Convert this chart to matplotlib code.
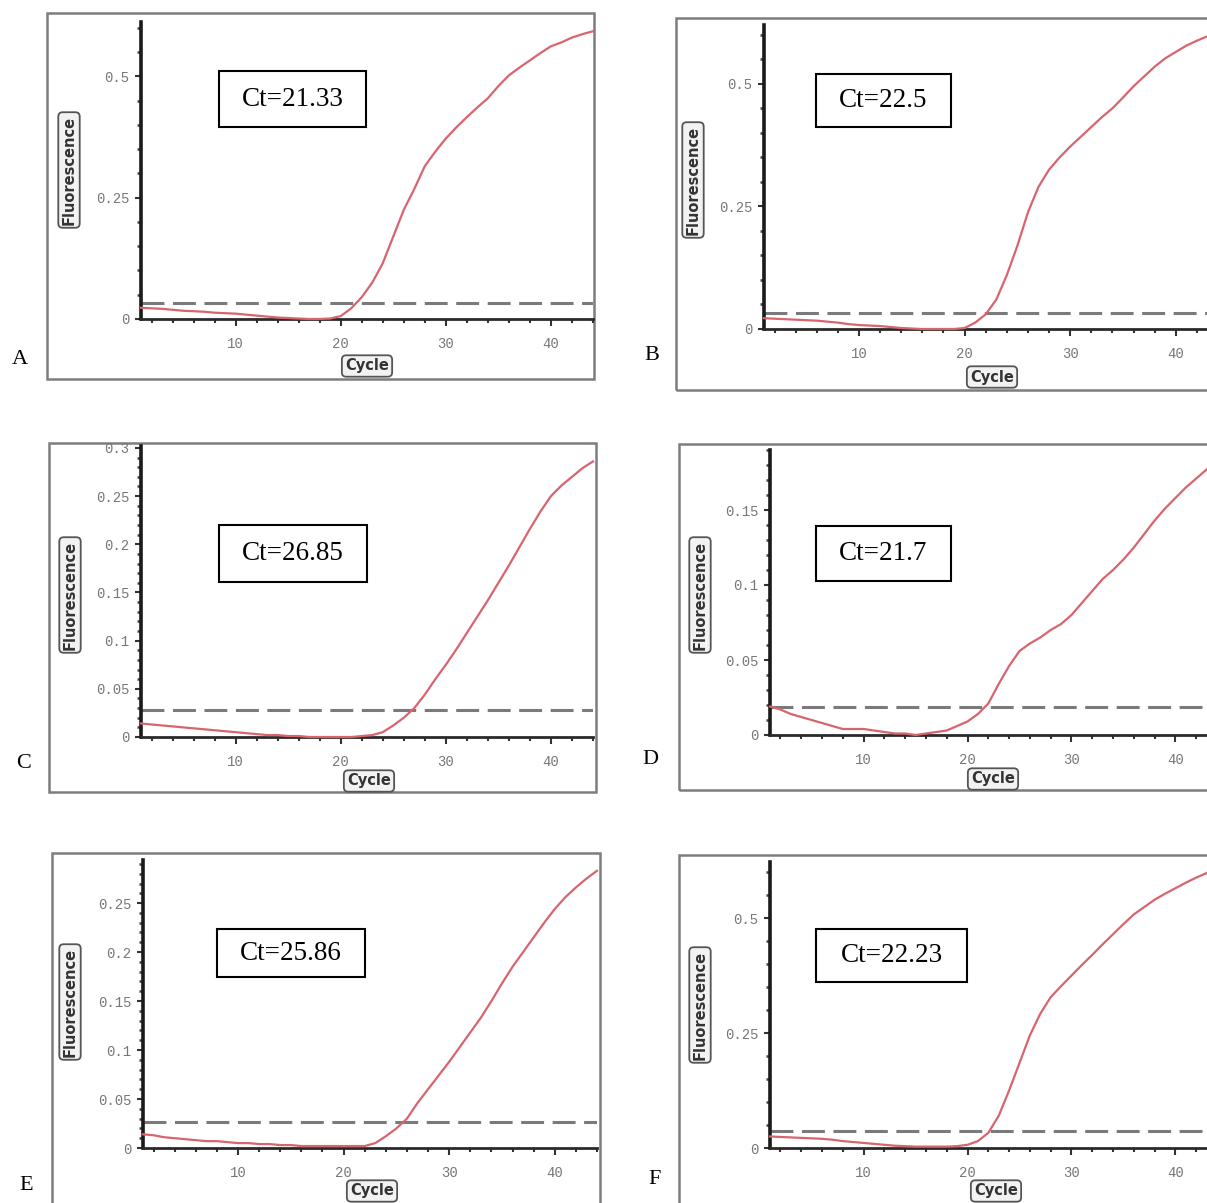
import matplotlib
matplotlib.use("Agg")
import matplotlib.pyplot as plt
from matplotlib.patches import Rectangle
from matplotlib.ticker import MultipleLocator

# ---------------- data ----------------
cycles = list(range(1, 45))

panel_letters = ["A", "B", "C", "D", "E", "F"]
ct_labels = ["Ct=21.33", "Ct=22.5", "Ct=26.85", "Ct=21.7", "Ct=25.86", "Ct=22.23"]
thresholds = [0.032, 0.032, 0.028, 0.019, 0.0265, 0.036]

fluor_A = [0.023, 0.022, 0.021, 0.019, 0.017, 0.016, 0.015, 0.013, 0.012, 0.011,
           0.009, 0.007, 0.005, 0.003, 0.002, 0.001, 0.000, 0.000, 0.001, 0.006,
           0.022, 0.045, 0.075, 0.115, 0.170, 0.225, 0.268, 0.315, 0.345, 0.372,
           0.395, 0.416, 0.436, 0.455, 0.480, 0.502, 0.518, 0.533, 0.548, 0.562,
           0.570, 0.580, 0.587, 0.593]
fluor_B = [0.022, 0.021, 0.020, 0.019, 0.018, 0.017, 0.015, 0.013, 0.010, 0.008,
           0.007, 0.006, 0.004, 0.002, 0.001, 0.000, 0.000, 0.000, 0.000, 0.002,
           0.013, 0.030, 0.060, 0.110, 0.170, 0.238, 0.290, 0.325, 0.350, 0.372,
           0.392, 0.412, 0.432, 0.450, 0.472, 0.495, 0.515, 0.535, 0.552, 0.565,
           0.578, 0.588, 0.597, 0.605]
fluor_C = [0.014, 0.013, 0.012, 0.011, 0.010, 0.009, 0.008, 0.007, 0.006, 0.005,
           0.004, 0.003, 0.002, 0.002, 0.001, 0.001, 0.000, 0.000, 0.000, 0.000,
           0.000, 0.001, 0.002, 0.005, 0.012, 0.020, 0.030, 0.044, 0.060, 0.075,
           0.091, 0.108, 0.125, 0.142, 0.160, 0.178, 0.197, 0.216, 0.234, 0.250,
           0.261, 0.270, 0.279, 0.286]
fluor_D = [0.019, 0.017, 0.014, 0.012, 0.010, 0.008, 0.006, 0.004, 0.004, 0.004,
           0.003, 0.002, 0.001, 0.001, 0.000, 0.001, 0.002, 0.003, 0.006, 0.009,
           0.014, 0.021, 0.034, 0.046, 0.056, 0.061, 0.065, 0.070, 0.074, 0.080,
           0.088, 0.096, 0.104, 0.110, 0.117, 0.125, 0.134, 0.143, 0.151, 0.158,
           0.165, 0.171, 0.177, 0.183]
fluor_E = [0.014, 0.013, 0.011, 0.010, 0.009, 0.008, 0.007, 0.007, 0.006, 0.005,
           0.005, 0.004, 0.004, 0.003, 0.003, 0.002, 0.002, 0.002, 0.002, 0.002,
           0.002, 0.002, 0.005, 0.012, 0.020, 0.030, 0.046, 0.060, 0.074, 0.088,
           0.103, 0.118, 0.133, 0.150, 0.168, 0.185, 0.200, 0.215, 0.230, 0.244,
           0.256, 0.266, 0.275, 0.283]
fluor_F = [0.025, 0.024, 0.023, 0.022, 0.021, 0.020, 0.018, 0.015, 0.013, 0.011,
           0.009, 0.007, 0.005, 0.004, 0.003, 0.003, 0.003, 0.003, 0.004, 0.007,
           0.015, 0.033, 0.070, 0.125, 0.185, 0.245, 0.292, 0.328, 0.352, 0.375,
           0.398, 0.420, 0.443, 0.465, 0.487, 0.508, 0.524, 0.540, 0.553, 0.565,
           0.577, 0.588, 0.598, 0.607]
series = [fluor_A, fluor_B, fluor_C, fluor_D, fluor_E, fluor_F]

x_major = [10, 20, 30, 40]
x_labels = ["10", "20", "30", "40"]
y_major_A = [0, 0.25, 0.5]
y_labels_A = ["0", "0.25", "0.5"]
y_major_C = [0, 0.05, 0.1, 0.15, 0.2, 0.25, 0.3]
y_labels_C = ["0", "0.05", "0.1", "0.15", "0.2", "0.25", "0.3"]
y_major_D = [0, 0.05, 0.1, 0.15]
y_labels_D = ["0", "0.05", "0.1", "0.15"]
y_major_E = [0, 0.05, 0.1, 0.15, 0.2, 0.25]
y_labels_E = ["0", "0.05", "0.1", "0.15", "0.2", "0.25"]
y_major = [y_major_A, y_major_A, y_major_C, y_major_D, y_major_E, y_major_A]
y_labels = [y_labels_A, y_labels_A, y_labels_C, y_labels_D, y_labels_E, y_labels_A]
y_minor_step = [0.05, 0.05, 0.01, 0.01, 0.01, 0.05]
y_top = [0.612, 0.62, 0.302, 0.19, 0.294, 0.622]

# ---------------- layout (pixels) ----------------
W, H = 1207, 1203
# axes: left px, right px, top px, bottom px
axes_px = [(141, 593, 22, 319), (764, 1218, 25, 329),
           (141, 593, 446, 737), (770, 1217, 450, 735),
           (143, 597, 860, 1148), (770, 1217, 862, 1148)]
# frame: left, top, right, bottom
frames_px = [(47, 13, 594, 379), (676, 18, 1225, 390),
             (49, 443, 596, 792), (679, 444, 1225, 790),
             (52, 853, 600, 1225), (679, 855, 1225, 1225)]
ct_boxes = [(219, 71, 366, 127), (816, 74, 951, 127),
            (219, 525, 367, 582), (816, 526, 951, 581),
            (217, 929, 365, 977), (816, 929, 967, 982)]
letter_pos = [(20, 360), (652, 356), (24, 763), (650, 760), (26, 1186), (655, 1180)]
fluor_pos = [(69, 170), (693, 180), (70, 595), (700, 595), (70, 1002), (700, 1005)]
cycle_pos = [(367, 366), (992, 377), (369, 781), (993, 779), (372, 1191), (996, 1191)]

fig = plt.figure(figsize=(W / 100, H / 100), dpi=100)
fig.patch.set_facecolor("white")

def fx(x):
    return x / W

def fy(y):
    return 1 - y / H

tick_font = dict(family="Liberation Mono", size=10)

for i in range(6):
    # frame
    l, t, r, b = frames_px[i]
    fig.add_artist(Rectangle((fx(l), fy(b)), fx(r) - fx(l), fy(t) - fy(b),
                             transform=fig.transFigure, fill=False,
                             edgecolor="#7d7d7d", linewidth=1.8, zorder=0))
    L, R, T, B = axes_px[i]
    ax = fig.add_axes([fx(L), fy(B), fx(R) - fx(L), fy(T) - fy(B)])
    ax.patch.set_alpha(0)
    ax.set_xlim(1, 44)
    ax.set_ylim(0, y_top[i])
    for s in ["top", "right"]:
        ax.spines[s].set_visible(False)
    ax.spines["left"].set_linewidth(2.6)
    ax.spines["left"].set_color("#1a1a1a")
    ax.spines["bottom"].set_linewidth(2.0)
    ax.spines["bottom"].set_color("#2a2a2a")

    ax.set_xticks(x_major)
    ax.set_xticklabels(x_labels, fontdict=tick_font, color="#777777")
    ax.xaxis.set_minor_locator(MultipleLocator(2))
    ax.set_yticks(y_major[i])
    ax.set_yticklabels(y_labels[i], fontdict=tick_font, color="#777777")
    ax.yaxis.set_minor_locator(MultipleLocator(y_minor_step[i]))
    ax.tick_params(axis="x", which="major", direction="out", length=5, width=1.5,
                   color="#333333", pad=8)
    ax.tick_params(axis="x", which="minor", direction="out", length=3, width=1.5,
                   color="#333333")
    ax.tick_params(axis="y", which="major", direction="out", length=4.5, width=1.5,
                   color="#333333", pad=4)
    ax.tick_params(axis="y", which="minor", direction="out", length=3, width=1.8,
                   color="#444444")

    ax.axhline(thresholds[i], color="#7a7a7a", linewidth=2.2, dashes=(7.5, 2.8), zorder=2)
    ax.plot(cycles, series[i], color="#d8646e", linewidth=1.6, zorder=3, clip_on=False)

    # Ct box
    cl, ct, cr, cb = ct_boxes[i]
    fig.add_artist(Rectangle((fx(cl), fy(cb)), fx(cr) - fx(cl), fy(ct) - fy(cb),
                             transform=fig.transFigure, fill=True, facecolor="white",
                             edgecolor="black", linewidth=1.5, zorder=5))
    fig.text(fx((cl + cr) / 2), fy((ct + cb) / 2), ct_labels[i],
             family="Liberation Serif", fontsize=19.5, ha="center", va="center",
             color="black", zorder=6)

    # panel letter
    lx, ly = letter_pos[i]
    fig.text(fx(lx), fy(ly), panel_letters[i], family="Liberation Serif",
             fontsize=16, ha="center", va="center", color="black")

    # axis title boxes
    px_, py_ = fluor_pos[i]
    fig.text(fx(px_), fy(py_), "Fluorescence", rotation=90, ha="center", va="center",
             family="DejaVu Sans", fontweight="bold", fontsize=10.5, color="#333333",
             bbox=dict(boxstyle="round,pad=0.22,rounding_size=0.3",
                       facecolor="#f2f2f2", edgecolor="#555555", linewidth=1.3))
    qx, qy = cycle_pos[i]
    fig.text(fx(qx), fy(qy), "Cycle", ha="center", va="center",
             family="DejaVu Sans", fontweight="bold", fontsize=10.5, color="#333333",
             bbox=dict(boxstyle="round,pad=0.22,rounding_size=0.3",
                       facecolor="#f2f2f2", edgecolor="#555555", linewidth=1.3))

fig.savefig("out.png", dpi=100, facecolor="white")
